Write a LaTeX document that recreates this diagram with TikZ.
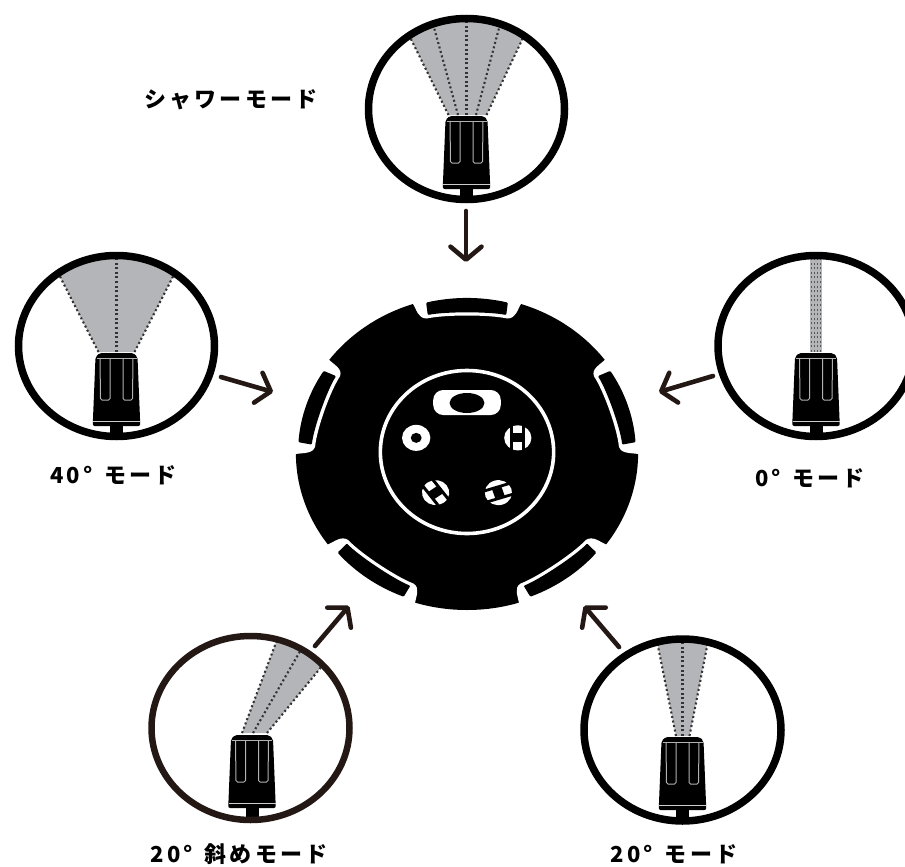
\documentclass[tikz,border=0pt]{standalone}
\usepackage{fontspec}
\newfontfamily\jpfont[LetterSpace=14]{Noto Sans CJK JP}
\usetikzlibrary{arrows.meta}
\definecolor{spraygray}{HTML}{B3B5B8}
\definecolor{inkb}{HTML}{241815}
\tikzset{
  ring/.style={draw=black,line width=7.5pt},
  ringb/.style={draw=inkb,line width=6.5pt},
  dotline/.style={draw=black!80,line width=2.1pt,dash pattern=on 2pt off 2.6pt},
  spray/.style={fill=spraygray},
  groove/.style={draw=black!30,line width=1pt,rounded corners=1.5pt},
  modearrow/.style={draw=inkb,line width=4.6pt,line cap=round,-{Straight Barb[length=13pt,width=31pt,round,line width=4.6pt]}},
  modelabel/.style={font=\jpfont\bfseries\fontsize{22}{24}\selectfont,text=black,inner sep=0pt},
  nozzle/.pic={
    \fill[black] (0,0) ++(-6.5,78) rectangle (6.5,94);
    \fill[black,rounded corners=2pt] (-17,7) -- (17,7) -- (21,11) -- (23.8,80) -- (-23.8,80) -- (-21,11) -- cycle;
    \draw[groove] (-20,12) -- (20,12);
    \draw[groove] (-16.5,12) -- (-16,54) -- (-6.5,54) -- (-6.5,12);
    \draw[groove] (16.5,12) -- (16,54) -- (6.5,54) -- (6.5,12);
    \draw[draw=black!20,line width=1pt] (-23.5,75) -- (23.5,75);
  }
}
\begin{document}
\begin{tikzpicture}[x=1pt,y=-1pt]
\useasboundingbox (0,0) rectangle (905,867);
\clip (0,0) rectangle (905,867);
\fill[white] (0,0) rectangle (905,867);

% ---- central disc
\begin{scope}[x=1pt,y=1pt,shift={(467pt,-453pt)},xscale=1.09]
  \fill[black] (0,0) circle[radius=157];
  \foreach \a in {90,162,234,306,18}{
    \begin{scope}[rotate=\a-90]
      \fill[white] (-60,175) -- (-50,150) .. controls (-46,143) and (-45,134.5) .. (-37,134.5)
         .. controls (-20,138.5) and (20,138.5) .. (37,134.5)
         .. controls (45,134.5) and (46,143) .. (50,150) -- (60,175) -- cycle;
      \fill[black,rounded corners=1pt] (104:155) arc[start angle=104,end angle=76,radius=155]
         -- (36,138) .. controls (20,141.5) and (-20,141.5) .. (-36,138) -- cycle;
    \end{scope}
  }
  \draw[white,line width=3.6pt] (0,1) ellipse[x radius=79.5,y radius=81.5];
  \fill[white,rounded corners=10pt] (-31,38) rectangle (31,63);
  \fill[black] (0,50) ellipse[x radius=16,y radius=10];
  \fill[white] (162:49) circle[radius=13];
  \fill[black] (162:49) circle[radius=5];
  \foreach \a in {18,-54,-126}{
    \begin{scope}[shift={(\a:49)},rotate=\a-18]
      \fill[white] (0,0) circle[radius=12.5];
      \fill[black] (-7,-13) rectangle (-4.2,13);
      \fill[black] (4.2,-13) rectangle (7,13);
      \fill[black] (-4.5,-4.5) rectangle (4.5,4.5);
    \end{scope}
  }
\end{scope}

% ---- shower (top)
\begin{scope}[shift={(466.5pt,-109pt)}]
  \begin{scope}
    \clip (0,0) ellipse[x radius=98,y radius=90.5];
    \fill[spray] (-18,6) -- (-64,-87) -- (0,-100) -- (64,-87) -- (20,6) -- cycle;
    \draw[dotline] (-18,6) -- (-64,-87);
    \draw[dotline] (-8.5,6) -- (-37,-98);
    \draw[dotline] (0,6) -- (0,-98);
    \draw[dotline] (9.5,6) -- (37,-98);
    \draw[dotline] (20,6) -- (64,-87);
  \end{scope}
  \pic {nozzle};
  \draw[ring] (0,0) ellipse[x radius=98,y radius=90.5];
\end{scope}

% ---- 40 deg (left)
\begin{scope}[shift={(116.5pt,-346pt)}]
  \begin{scope}
    \clip (0,0) ellipse[x radius=98,y radius=90.5];
    \fill[spray] (-18,6) -- (-66,-88) -- (0,-100) -- (66,-88) -- (18,6) -- cycle;
    \draw[dotline] (-18,6) -- (-66,-88);
    \draw[dotline] (0,6) -- (0,-98);
    \draw[dotline] (18,6) -- (66,-88);
  \end{scope}
  \pic {nozzle};
  \draw[ring] (0,0) ellipse[x radius=98,y radius=90.5];
\end{scope}

% ---- 0 deg (right)
\begin{scope}[shift={(816pt,-346pt)}]
  \begin{scope}
    \clip (0,0) ellipse[x radius=98,y radius=90.5];
    \fill[spray] (-6,6) rectangle (6,-98);
    \foreach \x in {-4.5,-1.5,1.5,4.5}{\draw[dotline,line width=1.7pt,draw=black!65] (\x,6) -- (\x,-98);}
  \end{scope}
  \pic {nozzle};
  \draw[ring] (0,0) ellipse[x radius=98,y radius=90.5];
\end{scope}

% ---- 20 deg slanted (bottom left)
\begin{scope}[shift={(250.5pt,-728pt)}]
  \begin{scope}
    \clip (0,0) ellipse[x radius=99,y radius=92];
    \fill[spray] (-8.5,5) -- (29.5,-96) -- (54.3,-85) -- (74,-65) -- (16.5,5) -- cycle;
    \draw[dotline] (-8.5,5) -- (29.5,-96);
    \draw[dotline] (2.5,5) -- (54.3,-85);
    \draw[dotline] (16.5,5) -- (74,-65);
  \end{scope}
  \pic at (1.5,0) {nozzle};
  \draw[ringb] (0,0) ellipse[x radius=99,y radius=92];
\end{scope}

% ---- 20 deg (bottom right)
\begin{scope}[shift={(682.5pt,-730pt)}]
  \begin{scope}
    \clip (0,0) ellipse[x radius=98.5,y radius=91];
    \fill[spray] (-6.5,6) -- (-27,-96) -- (27,-96) -- (7,6) -- cycle;
    \draw[dotline] (-6.5,6) -- (-27,-96);
    \draw[dotline] (0,6) -- (0,-98);
    \draw[dotline] (7,6) -- (27,-96);
  \end{scope}
  \pic {nozzle};
  \draw[ring] (0,0) ellipse[x radius=98.5,y radius=91];
\end{scope}

% ---- arrows
\coordinate (a1s) at (466,211); \coordinate (a1e) at (466,262);
\coordinate (a2s) at (221,377); \coordinate (a2e) at (273,392);
\coordinate (a3s) at (713,376); \coordinate (a3e) at (659,392);
\coordinate (a4s) at (315,646); \coordinate (a4e) at (349,606);
\coordinate (a5s) at (619,647); \coordinate (a5e) at (584,606);
\draw[modearrow] (a1s) -- (a1e);
\draw[modearrow] (a2s) -- (a2e);
\draw[modearrow] (a3s) -- (a3e);
\draw[modearrow] (a4s) -- (a4e);
\draw[modearrow] (a5s) -- (a5e);

% ---- labels
\node[modelabel] (l1) at (231,100) {シャワーモード};
\node[modelabel] (l2) at (113.5,475) {40° \,モード};
\node[modelabel] (l3) at (810,478) {0° \,モード};
\node[modelabel] (l4) at (239,854) {20° \,斜めモード};
\node[modelabel] (l5) at (674,854) {20° \,モード};
\end{tikzpicture}
\end{document}
